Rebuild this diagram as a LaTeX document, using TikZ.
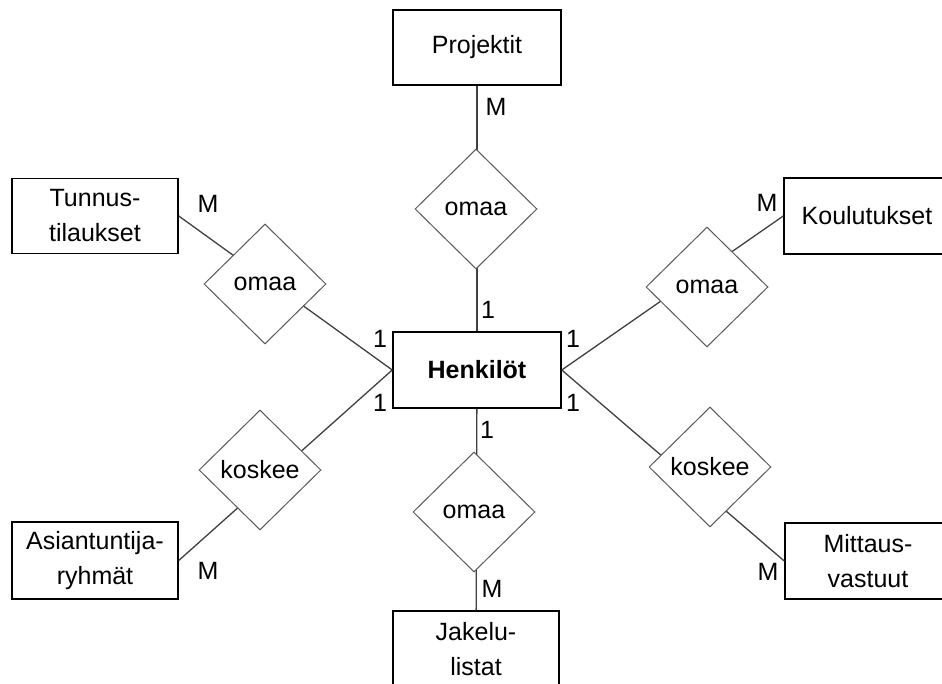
\documentclass[tikz,border=0pt]{standalone}
\usepackage{fontspec}
\setmainfont{Liberation Sans}
\usetikzlibrary{shapes.geometric}
\tikzset{myentity/.style={draw=black,line width=1.5pt,fill=white,minimum width=166pt,minimum height=76pt,inner sep=0pt,align=center,font=\fontsize{25}{35}\selectfont}}
\tikzset{myrelation/.style={diamond,draw=black!65,line width=1pt,fill=white,minimum width=122pt,minimum height=120pt,inner sep=0pt,font=\fontsize{25}{35}\selectfont}}
\tikzset{mycard/.style={inner sep=0pt,font=\fontsize{25}{35}\selectfont}}
\tikzset{myline/.style={draw=black!75,line width=1.3pt}}

\begin{document}
\begin{tikzpicture}[x=1pt,y=-1pt]
	\useasboundingbox (0,0) rectangle (942,684);
	\clip (0,0) rectangle (942,684);

	\node[myentity,minimum width=168pt,font=\fontsize{25}{35}\selectfont\bfseries] (henkilot) at (477,370) {Henkilöt};
	\node[myentity,minimum width=168pt,minimum height=75pt] (projektit) at (477,47.5) {Projektit};
	\node[myentity,minimum height=75pt] (tunnus) at (95,216) {Tunnus-\\tilaukset};
	\node[myentity,minimum height=77pt] (asiantuntija) at (95,560.5) {Asiantuntija-\\ryhmät};
	\node[myentity] (koulutukset) at (867,216) {Koulutukset};
	\node[myentity] (mittaus) at (868,561) {Mittaus-\\vastuut};
	\node[myentity] (jakelu) at (476,649) {Jakelu-\\listat};

	\draw[myline] (projektit) -- (henkilot);
	\draw[myline] (henkilot) -- (jakelu);
	\draw[myline] (tunnus.east) -- (henkilot.west);
	\draw[myline] (asiantuntija.east) -- (henkilot.west);
	\draw[myline] (henkilot.east) -- (koulutukset.west);
	\draw[myline] (henkilot.east) -- (mittaus.west); % lines under the diamonds

	\node[myrelation] (omaaproj) at (476,209) {omaa};
	\node[myrelation] (omaatunn) at (265,284) {omaa};
	\node[myrelation] (koskeeasia) at (260,470) {koskee};
	\node[myrelation] (omaakoul) at (707,287) {omaa};
	\node[myrelation] (koskeemitt) at (710,467) {koskee};
	\node[myrelation] (omaajak) at (474,512) {omaa};

	\node[mycard] (mproj) at (496,107) {M};
	\node[mycard] (yproj) at (488,310) {1};
	\node[mycard] (mtunn) at (208,204) {M};
	\node[mycard] (ytunn) at (380,339) {1};
	\node[mycard] (yasia) at (380,403) {1};
	\node[mycard] (masia) at (208,571) {M};
	\node[mycard] (ykoul) at (573,339) {1};
	\node[mycard] (mkoul) at (767,203) {M};
	\node[mycard] (ymitt) at (573,403) {1};
	\node[mycard] (mmitt) at (768,572) {M};
	\node[mycard] (yjak) at (487,430) {1};
	\node[mycard] (mjak) at (492,589) {M};
\end{tikzpicture}
\end{document}
